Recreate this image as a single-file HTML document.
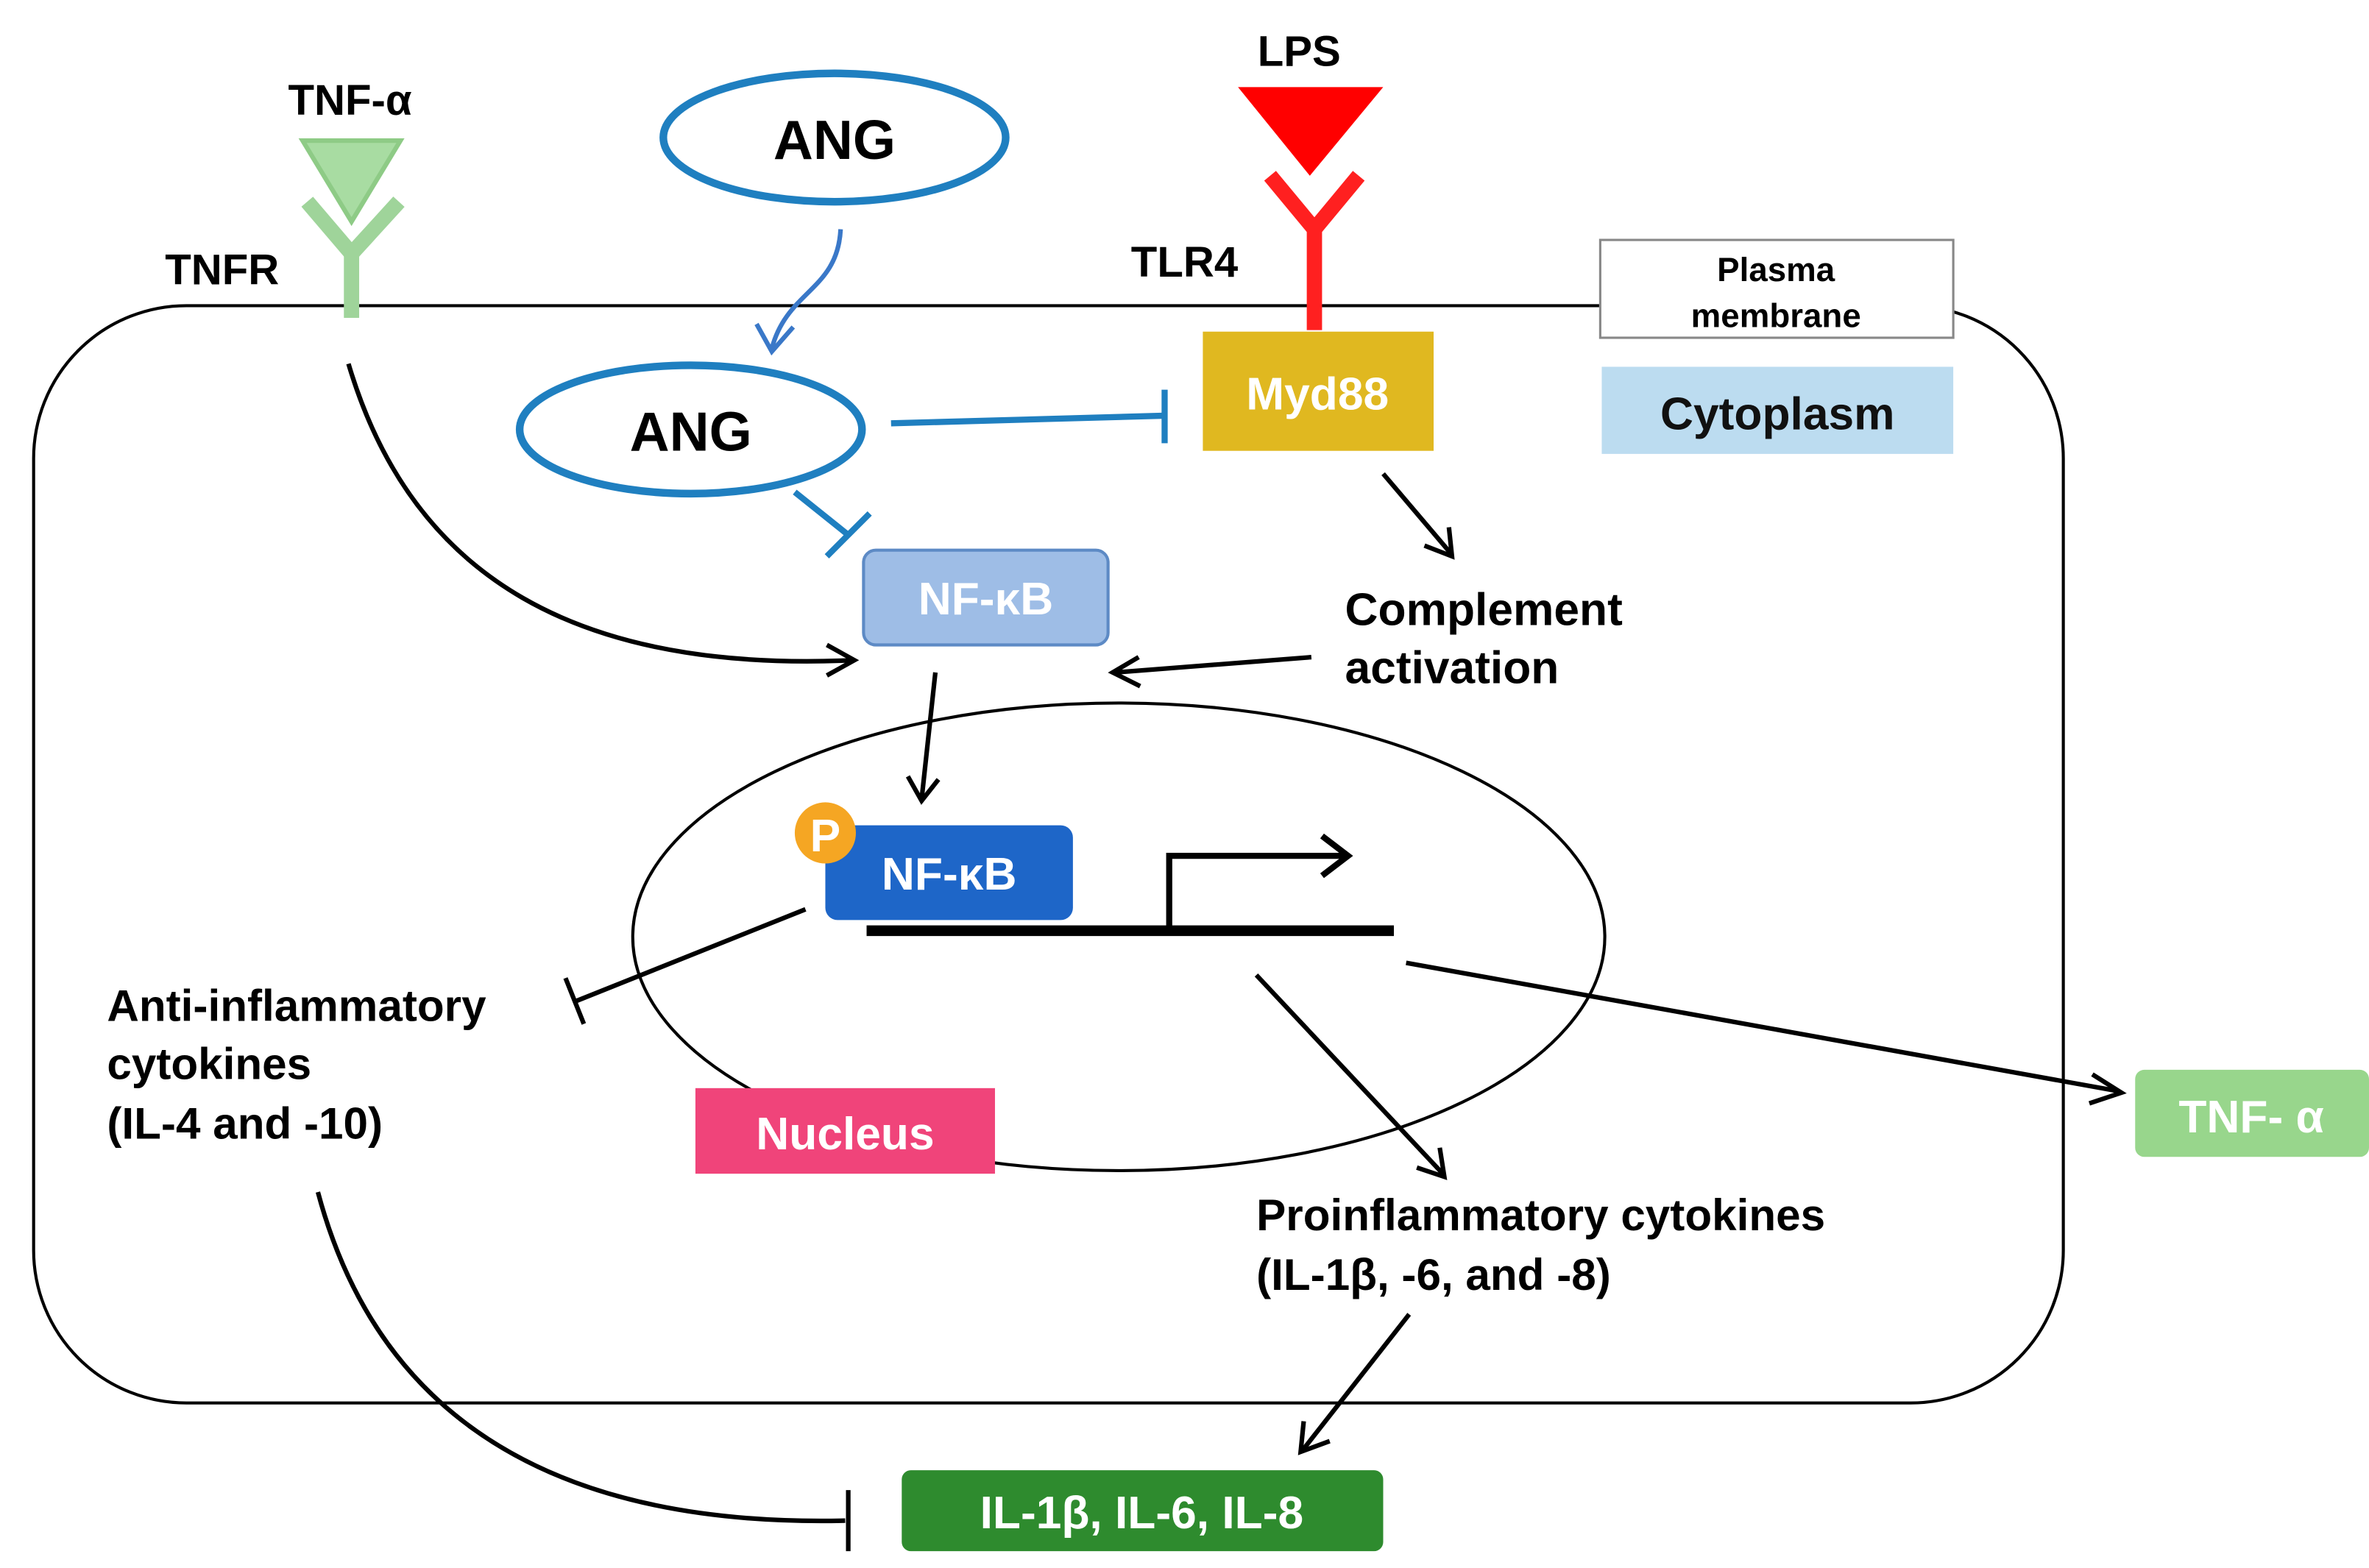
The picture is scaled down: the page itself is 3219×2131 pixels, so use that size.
<!DOCTYPE html>
<html><head><meta charset="utf-8"><style>
html,body{margin:0;padding:0;background:#fff;}
svg{display:block;}
text{font-family:"Liberation Sans","DejaVu Sans",sans-serif;font-weight:bold;}
</style></head><body>
<svg width="3219" height="2131" viewBox="0 0 1550 1026" preserveAspectRatio="none" xmlns="http://www.w3.org/2000/svg">
<defs>
<marker id="ah" markerWidth="10" markerHeight="10" refX="8" refY="5" orient="auto" markerUnits="userSpaceOnUse" viewBox="0 0 10 10">
</marker>
</defs>
<!-- cell -->
<rect x="22" y="200" width="1328" height="718" rx="100" ry="100" fill="none" stroke="#000" stroke-width="2"/>
<!-- plasma membrane box -->
<rect x="1047" y="157" width="231" height="64" fill="#fff" stroke="#888" stroke-width="1.5"/>
<text x="1162" y="184" font-size="22" text-anchor="middle">Plasma</text>
<text x="1162" y="214" font-size="22" text-anchor="middle">membrane</text>
<rect x="1048" y="240" width="230" height="57" fill="#bcdcf0"/>
<text x="1163" y="281" font-size="30" text-anchor="middle" fill="#111">Cytoplasm</text>

<!-- TNF-a receptor -->
<text x="229" y="75" font-size="28" text-anchor="middle">TNF-α</text>
<polygon points="198,92 262,92 230,145" fill="#a8dca2" stroke="#8ecb86" stroke-width="3"/>
<g stroke="#9fd49a" stroke-width="10" fill="none">
<line x1="201" y1="132" x2="230" y2="166"/><line x1="261" y1="132" x2="230" y2="166"/><line x1="230" y1="164" x2="230" y2="208"/>
</g>
<text x="108" y="186" font-size="28">TNFR</text>

<!-- LPS -->
<text x="850" y="43" font-size="28" text-anchor="middle">LPS</text>
<polygon points="810,57 905,57 857,115" fill="#ff0000"/>
<g stroke="#ff2020" stroke-width="10" fill="none">
<line x1="831" y1="115" x2="860" y2="150"/><line x1="889" y1="115" x2="860" y2="150"/><line x1="860" y1="148" x2="860" y2="216"/>
</g>
<text x="740" y="181" font-size="28">TLR4</text>

<!-- ANG -->
<ellipse cx="546" cy="90" rx="112" ry="42" fill="#fff" stroke="#1f7fc0" stroke-width="5"/>
<text x="546" y="104" font-size="36" text-anchor="middle" font-weight="bold">ANG</text>
<path d="M550,150 C548,190 515,190 505,228" fill="none" stroke="#3a78c8" stroke-width="3"/>
<polyline points="495,212 505,230 519,214" fill="none" stroke="#3a78c8" stroke-width="3"/>
<ellipse cx="452" cy="281" rx="112" ry="42" fill="#fff" stroke="#1f7fc0" stroke-width="5"/>
<text x="452" y="295" font-size="36" text-anchor="middle">ANG</text>
<line x1="583" y1="277" x2="762" y2="272" stroke="#1f7fc0" stroke-width="4"/>
<line x1="762" y1="255" x2="762" y2="290" stroke="#1f7fc0" stroke-width="4"/>
<line x1="520" y1="322" x2="555" y2="350" stroke="#1f7fc0" stroke-width="4"/>
<line x1="541" y1="364" x2="569" y2="336" stroke="#1f7fc0" stroke-width="4"/>

<!-- Myd88 -->
<rect x="787" y="217" width="151" height="78" fill="#e0b820"/>
<text x="862" y="268" font-size="30" text-anchor="middle" fill="#fff">Myd88</text>
<line x1="905" y1="310" x2="950" y2="363" stroke="#000" stroke-width="3"/>
<polyline points="932,357 950,364 948,345" fill="none" stroke="#000" stroke-width="3"/>
<text x="880" y="409" font-size="30">Complement</text>
<text x="880" y="447" font-size="30">activation</text>
<line x1="858" y1="430" x2="730" y2="440" stroke="#000" stroke-width="3"/>
<polyline points="745,430 728,440 746,449" fill="none" stroke="#000" stroke-width="3"/>

<!-- NF-kB cytoplasm -->
<rect x="565" y="360" width="160" height="62" rx="8" fill="#9ebde6" stroke="#5d8ac5" stroke-width="2"/>
<text x="645" y="402" font-size="30" text-anchor="middle" fill="#fff">NF-κB</text>
<path d="M228,238 C270,380 380,440 558,432" fill="none" stroke="#000" stroke-width="3"/>
<polyline points="541,422 559,432 541,442" fill="none" stroke="#000" stroke-width="3"/>
<line x1="612" y1="440" x2="603" y2="523" stroke="#000" stroke-width="3"/>
<polyline points="594,508 603,524 614,510" fill="none" stroke="#000" stroke-width="3"/>

<!-- Nucleus -->
<ellipse cx="732" cy="613" rx="318" ry="153" fill="none" stroke="#000" stroke-width="2"/>
<rect x="540" y="540" width="162" height="62" rx="8" fill="#1e66c8"/>
<text x="621" y="582" font-size="30" text-anchor="middle" fill="#fff">NF-κB</text>
<circle cx="540" cy="545" r="20" fill="#f5a623"/>
<text x="540" y="557" font-size="30" text-anchor="middle" fill="#fff">P</text>
<line x1="567" y1="609" x2="912" y2="609" stroke="#000" stroke-width="7"/>
<polyline points="765,609 765,560 880,560" fill="none" stroke="#000" stroke-width="4"/>
<polyline points="865,547 882,560 865,573" fill="none" stroke="#000" stroke-width="4"/>
<line x1="527" y1="595" x2="377" y2="655" stroke="#000" stroke-width="3"/>
<line x1="370" y1="640" x2="382" y2="670" stroke="#000" stroke-width="3"/>
<text x="70" y="668" font-size="29">Anti-inflammatory</text>
<text x="70" y="706" font-size="29">cytokines</text>
<text x="70" y="745" font-size="29">(IL-4 and -10)</text>
<rect x="455" y="712" width="196" height="56" fill="#f0447a"/>
<text x="553" y="752" font-size="30" text-anchor="middle" fill="#fff">Nucleus</text>
<line x1="822" y1="638" x2="944" y2="768" stroke="#000" stroke-width="3"/>
<polyline points="927,764 945,770 942,751" fill="none" stroke="#000" stroke-width="3"/>
<line x1="920" y1="630" x2="1386" y2="714" stroke="#000" stroke-width="3"/>
<polyline points="1369,703 1388,715 1367,722" fill="none" stroke="#000" stroke-width="3"/>
<rect x="1397" y="700" width="153" height="57" rx="6" fill="#98d68c"/>
<text x="1473" y="741" font-size="30" text-anchor="middle" fill="#fff">TNF- α</text>
<text x="822" y="805" font-size="29">Proinflammatory cytokines</text>
<text x="822" y="844" font-size="29">(IL-1β, -6, and -8)</text>
<line x1="922" y1="860" x2="853" y2="948" stroke="#000" stroke-width="3"/>
<polyline points="853,930 851,950 870,943" fill="none" stroke="#000" stroke-width="3"/>
<rect x="590" y="962" width="315" height="53" rx="6" fill="#2e8b2e"/>
<text x="747" y="1000" font-size="30" text-anchor="middle" fill="#fff">IL-1β, IL-6, IL-8</text>
<path d="M208,780 C240,900 330,1000 553,995" fill="none" stroke="#000" stroke-width="3"/>
<line x1="555" y1="975" x2="555" y2="1015" stroke="#000" stroke-width="3"/>
</svg>
</body></html>
